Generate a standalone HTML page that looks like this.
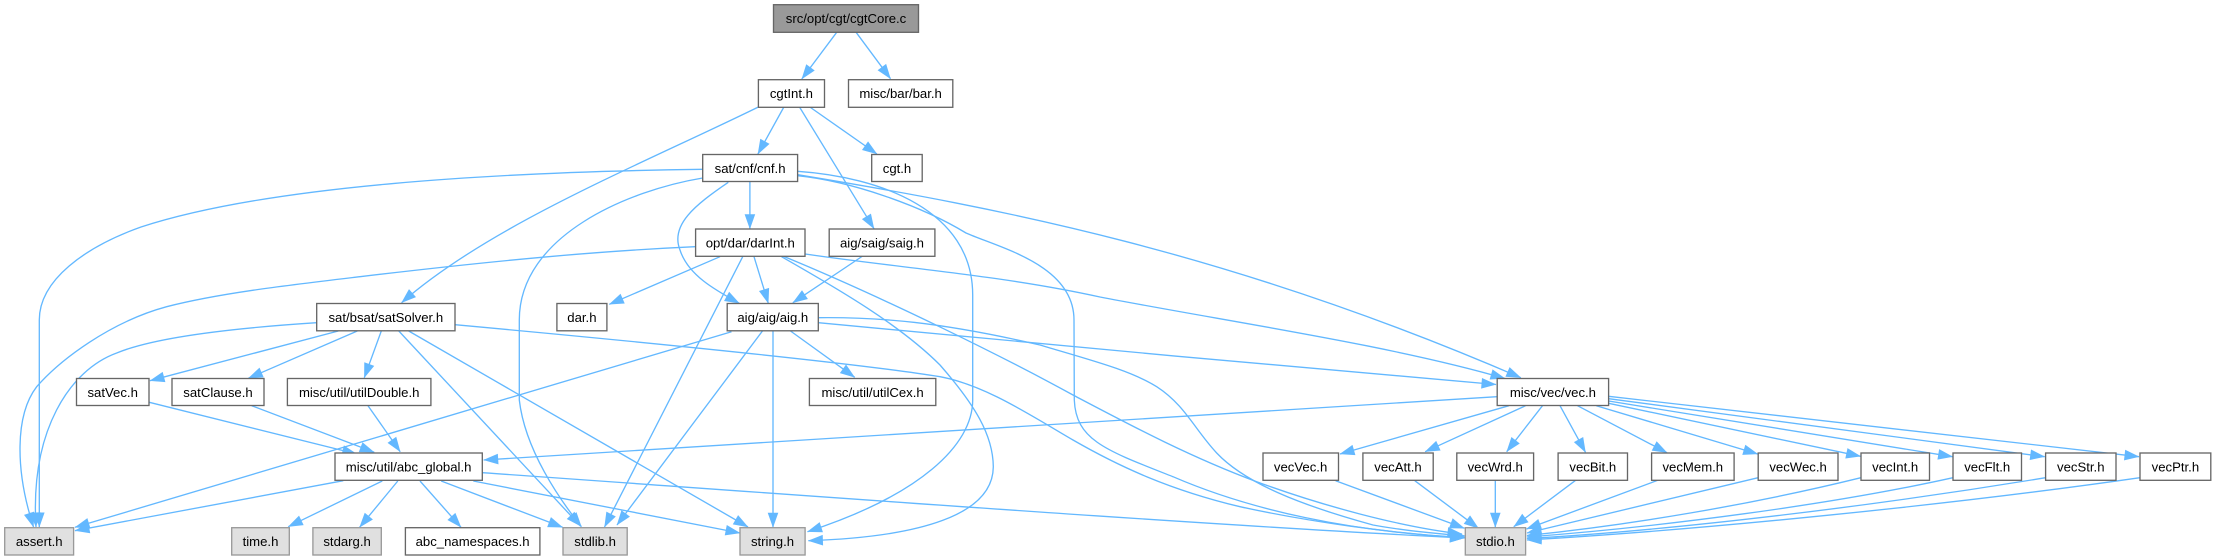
<!DOCTYPE html>
<html>
<head>
<meta charset="utf-8">
<style>
html,body{margin:0;padding:0;background:#fff;width:2216px;height:560px;overflow:hidden}
svg{display:block}
.e path{fill:none;stroke:#63b8ff;stroke-width:1.33;marker-end:url(#a)}
.n rect{fill:#fff;stroke:#666;stroke-width:1.33}
.n rect.g{fill:#e0e0e0;stroke:#999}
.n rect.r{fill:#999;stroke:#666}
.n text{font-family:"Liberation Sans",Arial,sans-serif;font-size:13.15px;text-anchor:middle;fill:#000}
</style>
</head>
<body>
<svg width="2216" height="560" viewBox="0 0 2216 560" xmlns="http://www.w3.org/2000/svg">
<defs>
<marker id="a" markerUnits="userSpaceOnUse" markerWidth="18" markerHeight="14" refX="14.5" refY="7" orient="auto" overflow="visible">
<polygon points="0,1.7 15,7 0,12.3" fill="#63b8ff"/>
</marker>
</defs>
<g class="e">
<path d="M836.7,32.3 L801.8,79"/>
<path d="M856.1,32.3 L890.5,78.7"/>
<path d="M783.9,107 L757.9,154"/>
<path d="M809.8,107 L876.9,154"/>
<path d="M799.5,107 L874,228.7"/>
<path d="M758.4,107 C640,165 490,225 401.6,302.7"/>
<path d="M702.7,169.3 C500,172 270,185 141,227 C85,247 39.3,280 39.3,320 L39.3,527"/>
<path d="M702.7,178 C630,190 519.3,235 519.3,320 L519.3,400 C525,450 560,500 581.4,526.7"/>
<path d="M728.3,182.3 C695,205 670,225 680,250 C688,275 715,290 739.3,303.3"/>
<path d="M749.9,181.7 L749.9,228.7"/>
<path d="M797.6,171.3 C880,177 972.7,210 972.7,295 L972.7,400 C972.7,445 920,495 807.5,531.7"/>
<path d="M797.6,175.7 C850,181 920,205 966,233 C1000,248 1074,265 1074,320 L1074.3,400 C1076,440 1105,450 1173,476.7 C1250,510 1350,532 1465.3,537.5"/>
<path d="M797.6,174.7 C1000,208 1230,252 1520.8,377.7"/>
<path d="M862.7,256 L792.9,302.7"/>
<path d="M695,246.7 C600,251 500,260 360,276.7 C290,285 220,293 166.7,306.7 C110,322 60,360 36.7,386.7 C15,415 15,470 33.5,527"/>
<path d="M720,256.7 L609.3,304.3"/>
<path d="M742.7,256.7 L604.5,527"/>
<path d="M754,256.7 L768.3,303.3"/>
<path d="M781.5,256.7 C840,290 900,325 940,365 C975,405 993,435 993.3,466.7 C993,515 920,537 808.4,540.7"/>
<path d="M784,256.5 C880,296 1000,355 1073,395 C1130,425 1190,457 1256.7,481.7 C1320,505 1400,527 1462,534"/>
<path d="M805.1,254 C900,268 1000,275 1100,297 C1230,322 1390,345 1505,378.5"/>
<path d="M818.3,322.7 C1000,340 1300,368 1496,384.5"/>
<path d="M818.3,317.7 C880,317 940,322 1040,345 C1090,360 1130,370 1156.7,386.7 C1185,405 1195,430 1216.7,453 C1245,483 1300,505 1373,525 C1400,530 1440,534 1465,536"/>
<path d="M790.5,331 L854.7,377.3"/>
<path d="M773,331 L773,527.3"/>
<path d="M762.7,330.7 L617,525"/>
<path d="M731.5,331.7 L75,527.3"/>
<path d="M316.7,322.7 C250,327 160,335 116.7,353 C70,370 30,430 36,527"/>
<path d="M338.3,331 L150,380.7"/>
<path d="M357.3,331 L248.3,378.3"/>
<path d="M381.3,331 L364.3,377.7"/>
<path d="M398.8,331 L580.5,526"/>
<path d="M408.7,331 L748,527"/>
<path d="M455,324.7 C600,338 850,362 940,376.7 C985,385 1030,415 1073,440 C1120,467 1170,490 1240,506.7 C1310,522 1390,533 1464.4,538"/>
<path d="M149.3,402.3 L356.7,454"/>
<path d="M251.7,405.7 L374.2,452.3"/>
<path d="M368,405.7 L400.2,451.7"/>
<path d="M343.3,480.7 L75,530.7"/>
<path d="M382.3,481 L288.3,526.7"/>
<path d="M397.8,481 L359.6,527.3"/>
<path d="M420,481 L461,527.3"/>
<path d="M441.2,481 L562.6,527.3"/>
<path d="M473.3,481 L740,533"/>
<path d="M482.3,472.7 C800,495 1200,525 1464.4,538"/>
<path d="M1497,396.7 L483.7,460"/>
<path d="M1509,405.7 L1340,454"/>
<path d="M1525.6,405.7 L1425.2,451.7"/>
<path d="M1542.5,405.7 L1506.7,451.7"/>
<path d="M1560,405.7 L1585.5,452.3"/>
<path d="M1577.5,405.7 L1667,452.7"/>
<path d="M1596.3,405.7 L1757.7,454"/>
<path d="M1608.6,403.3 L1860.6,456.3"/>
<path d="M1608.6,401 L1952.6,456.7"/>
<path d="M1608.6,398.7 L2044.7,456.7"/>
<path d="M1608.6,396.3 L2139,456.7"/>
<path d="M1335.6,480.7 L1464.4,528.3"/>
<path d="M1414.8,480.7 L1478.5,528.3"/>
<path d="M1495.3,480.3 L1495.3,527.3"/>
<path d="M1575.6,480.3 L1513.8,526.7"/>
<path d="M1657.7,480.3 L1526.5,529"/>
<path d="M1758.2,477.7 L1527,533"/>
<path d="M1861,477.7 C1750,505 1630,525 1527,535.5"/>
<path d="M1953,477.7 C1830,505 1660,527 1527,537"/>
<path d="M2045.6,477.7 C1880,505 1680,530 1527,538.5"/>
<path d="M2140,477.7 C1950,505 1700,530 1527,540"/>
</g>
<g class="n">
<rect class="r" x="773.5" y="4.7" width="145" height="27.6"/><text x="846" y="23">src/opt/cgt/cgtCore.c</text>
<rect x="758.4" y="79.7" width="66.1" height="27.6"/><text x="791.4" y="98">cgtInt.h</text>
<rect x="848.5" y="79.7" width="104.3" height="27.6"/><text x="900.6" y="98">misc/bar/bar.h</text>
<rect x="702.7" y="154.5" width="94.9" height="27"/><text x="750.1" y="173">sat/cnf/cnf.h</text>
<rect x="871.7" y="154.5" width="50.5" height="27"/><text x="897" y="173">cgt.h</text>
<rect x="695.6" y="229" width="109.4" height="27.3"/><text x="750.3" y="247.5">opt/dar/darInt.h</text>
<rect x="829.2" y="229" width="105.7" height="27.3"/><text x="882" y="247.5">aig/saig/saig.h</text>
<rect x="316.7" y="303.5" width="138.3" height="27.3"/><text x="385.8" y="322">sat/bsat/satSolver.h</text>
<rect x="556.9" y="303.5" width="50" height="27.3"/><text x="581.9" y="322">dar.h</text>
<rect x="727.2" y="303.5" width="91.1" height="27.3"/><text x="772.8" y="322">aig/aig/aig.h</text>
<rect x="76.5" y="378.5" width="72.5" height="27"/><text x="112.7" y="397">satVec.h</text>
<rect x="172" y="378.5" width="92" height="27"/><text x="218" y="397">satClause.h</text>
<rect x="287.4" y="378.5" width="143.5" height="27"/><text x="359.2" y="397">misc/util/utilDouble.h</text>
<rect x="809.4" y="378.5" width="126.4" height="27"/><text x="872.6" y="397">misc/util/utilCex.h</text>
<rect x="1497.2" y="378.5" width="111.4" height="27"/><text x="1552.9" y="397">misc/vec/vec.h</text>
<rect x="335" y="453" width="147.3" height="27.3"/><text x="408.6" y="471.5">misc/util/abc_global.h</text>
<rect x="1263" y="453" width="75.5" height="27.3"/><text x="1300.6" y="471.5">vecVec.h</text>
<rect x="1362.9" y="453" width="70.3" height="27.3"/><text x="1398" y="471.5">vecAtt.h</text>
<rect x="1456.8" y="453" width="76.8" height="27.3"/><text x="1495.2" y="471.5">vecWrd.h</text>
<rect x="1558.1" y="453" width="69.4" height="27.3"/><text x="1592.8" y="471.5">vecBit.h</text>
<rect x="1651.6" y="453" width="82.5" height="27.3"/><text x="1692.8" y="471.5">vecMem.h</text>
<rect x="1758.2" y="453" width="79.8" height="27.3"/><text x="1798.1" y="471.5">vecWec.h</text>
<rect x="1861" y="453" width="68.5" height="27.3"/><text x="1895.2" y="471.5">vecInt.h</text>
<rect x="1953" y="453" width="68.5" height="27.3"/><text x="1987.2" y="471.5">vecFlt.h</text>
<rect x="2045.6" y="453" width="70.4" height="27.3"/><text x="2080.8" y="471.5">vecStr.h</text>
<rect x="2140" y="453" width="70.8" height="27.3"/><text x="2175.4" y="471.5">vecPtr.h</text>
<rect class="g" x="4.7" y="527.7" width="68.9" height="27.3"/><text x="39.2" y="546">assert.h</text>
<rect class="g" x="231.7" y="527.7" width="57.6" height="27.3"/><text x="260.5" y="546">time.h</text>
<rect class="g" x="312.9" y="527.7" width="68.4" height="27.3"/><text x="347.1" y="546">stdarg.h</text>
<rect x="405.4" y="527.7" width="134.5" height="27.3"/><text x="472.6" y="546">abc_namespaces.h</text>
<rect class="g" x="563" y="527.7" width="64.2" height="27.3"/><text x="595.1" y="546">stdlib.h</text>
<rect class="g" x="740" y="527.7" width="65.1" height="27.3"/><text x="772.5" y="546">string.h</text>
<rect class="g" x="1465.3" y="527.7" width="60.3" height="27.3"/><text x="1495.4" y="546">stdio.h</text>
</g>
</svg>
</body>
</html>
